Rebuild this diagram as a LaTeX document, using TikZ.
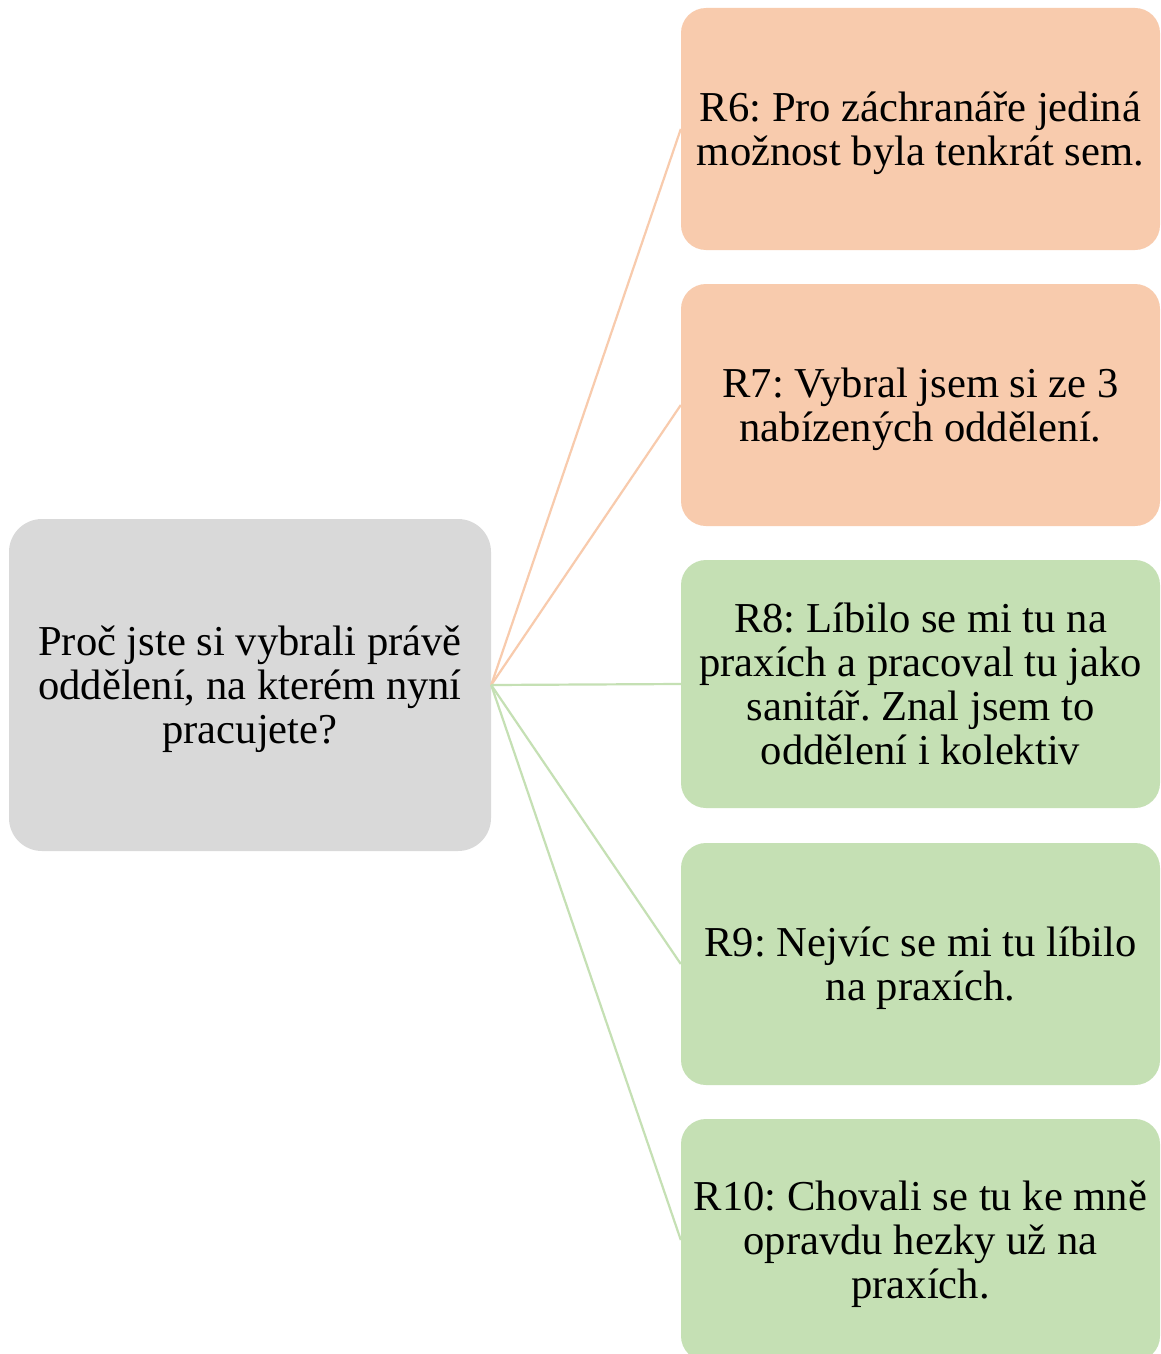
\documentclass[tikz,border=0pt]{standalone}
\usepackage{fontspec}
\setmainfont{Liberation Serif}
\frenchspacing
\definecolor{boxgray}{HTML}{D9D9D9}
\definecolor{boxorange}{HTML}{F8CBAD}
\definecolor{boxgreen}{HTML}{C5E0B4}
% fixed extents for the first and last line, so every text block sits alike
\newcommand\firstline{\rule{0pt}{38pt}}
\newcommand\lastline{\rule[-10pt]{0pt}{10pt}}
\begin{document}
\begin{tikzpicture}[x=1pt,y=-1pt,
  txt/.style={align=center,font=\fontsize{42.6}{44}\selectfont,inner sep=0pt},
  question/.style={txt,fill=boxgray,rounded corners=33pt,minimum width=482pt,minimum height=332pt},
  answer/.style={txt,rounded corners=25pt,minimum width=479pt,minimum height=242pt},
  orangebox/.style={answer,fill=boxorange},
  greenbox/.style={answer,fill=boxgreen},
  link/.style={line width=2.2pt}]
\clip (0,0) rectangle (1161,1354);
\fill[white] (0,0) rectangle (1161,1354);

\node[question] (q) at (250,685) {\firstline Proč jste si vybrali právě\\oddělení, na kterém nyní\\pracujete?\lastline};

\node[orangebox] (r6) at (920.5,129) {\firstline R6: Pro záchranáře jediná\\možnost byla tenkrát sem.\lastline};
\node[orangebox] (r7) at (920.5,405) {\firstline R7: Vybral jsem si ze 3\\nabízených oddělení.\lastline};
\node[greenbox,minimum height=248pt] (r8) at (920.5,684) {\firstline R8: Líbilo se mi tu na\\praxích a pracoval tu jako\\sanitář. Znal jsem to\\oddělení i kolektiv\lastline};
\node[greenbox] (r9) at (920.5,964) {\firstline R9: Nejvíc se mi tu líbilo\\na praxích.\lastline};
\node[greenbox] (r10) at (920.5,1240) {\firstline R10: Chovali se tu ke mně\\opravdu hezky už na\\praxích.\lastline};

\draw[link,boxorange] (q.east) -- (r6.west);
\draw[link,boxorange] (q.east) -- (r7.west);
\draw[link,boxgreen] (q.east) -- (r8.west);
\draw[link,boxgreen] (q.east) -- (r9.west);
\draw[link,boxgreen] (q.east) -- (r10.west);
\end{tikzpicture}
\end{document}
